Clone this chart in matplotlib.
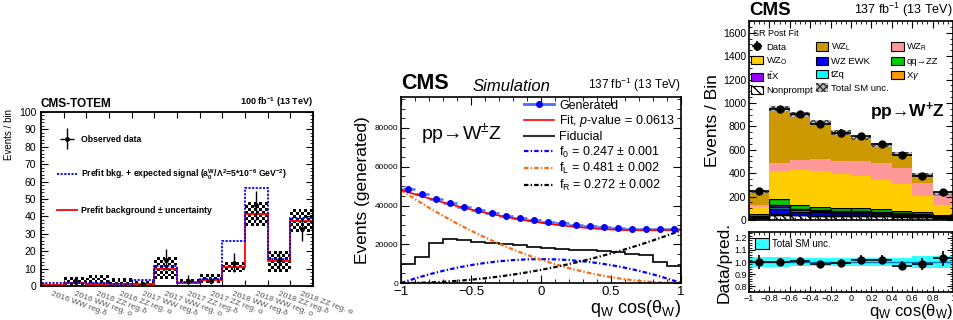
import matplotlib
matplotlib.use('Agg')
import matplotlib.pyplot as plt
import numpy as np
from matplotlib.ticker import MultipleLocator, FormatStrFormatter
from matplotlib.patches import Patch
from matplotlib.lines import Line2D
from matplotlib.legend_handler import HandlerErrorbar

plt.rcParams['font.family'] = ['Liberation Sans', 'DejaVu Sans']
plt.rcParams['mathtext.fontset'] = 'custom'
plt.rcParams['mathtext.rm'] = 'Liberation Sans'
plt.rcParams['mathtext.it'] = 'Liberation Sans:italic'
plt.rcParams['mathtext.bf'] = 'Liberation Sans:bold'
plt.rcParams['hatch.linewidth'] = 1.0

# ---- left panel: CMS-TOTEM counting bins
totem_bins = ['2016 WW reg.δ', '2016 WW reg. o', '2016 ZZ reg.δ', '2016 ZZ reg. o',
              '2017 WW reg.δ', '2017 WW reg. o', '2017 ZZ reg.δ', '2017 ZZ reg. o',
              '2018 WW reg.δ', '2018 WW reg. o', '2018 ZZ reg.δ', '2018 ZZ reg. o']
totem_bkg = [0.6, 1.5, 1.2, 1.0, 1.0, 9.8, 1.9, 3.5, 11.0, 41.3, 14.5, 37.1]
totem_sig = [1.9, 2.0, 1.5, 1.2, 3.5, 11.7, 2.5, 3.8, 26.0, 56.5, 15.4, 39.0]
totem_unc_lo = [0.0, 0.6, 0.6, 0.6, 0.0, 3.8, 1.2, 1.5, 8.3, 34.2, 8.3, 31.0]
totem_unc_hi = [0.8, 5.0, 6.3, 4.4, 2.5, 16.0, 4.0, 6.3, 14.0, 47.7, 19.8, 43.8]
totem_obs = [np.nan, 3, np.nan, np.nan, 1, 15, 3, 3, 13, 46.5, 15, 32.5]
totem_obs_lo = [0, 2.4, 0, 0, 1, 6, 3, 2, 5, 8.5, 5.5, 6.5]
totem_obs_hi = [0, 2.4, 0, 0, 1.5, 6, 3.5, 2, 6, 8, 5, 6]

# ---- middle panel: generated q*cos(theta) distribution
gen_x = [-0.95, -0.85, -0.75, -0.65, -0.55, -0.45, -0.35, -0.25, -0.15, -0.05,
         0.05, 0.15, 0.25, 0.35, 0.45, 0.55, 0.65, 0.75, 0.85, 0.95]
gen_y = [48500, 46100, 43500, 41400, 39200, 37600, 36000, 34800, 33400, 32400,
         31500, 30800, 30000, 29400, 28800, 28200, 27900, 27700, 27700, 27900]
fid_edges = [-1.0, -0.9, -0.8, -0.7, -0.6, -0.5, -0.4, -0.3, -0.2, -0.1, 0.0,
             0.1, 0.2, 0.3, 0.4, 0.5, 0.6, 0.7, 0.8, 0.9, 1.0]
fid_y = [9800, 13300, 20700, 22600, 22100, 21400, 20900, 20200, 19500, 18600,
         17900, 17700, 17200, 16800, 16300, 16000, 15100, 14200, 10700, 8900]
curve_x = fid_edges
fit_y = [48000, 45800, 43700, 41600, 39700, 37900, 36300, 34800, 33400, 32200, 31100,
         30100, 29300, 28600, 28000, 27600, 27300, 27200, 27200, 27300, 27500]
f0_y = [0, 2340, 4430, 6280, 7880, 9240, 10350, 11210, 11830, 12200, 12320,
        12200, 11830, 11210, 10350, 9240, 7880, 6280, 4430, 2340, 0]
fL_y = [47980, 43300, 38860, 34660, 30710, 26990, 23510, 20270, 17270, 14510, 12000,
        9720, 7680, 5880, 4320, 3000, 1920, 1080, 480, 120, 0]
fR_y = [0, 70, 270, 610, 1090, 1700, 2440, 3320, 4340, 5490, 6780,
        8210, 9770, 11460, 13290, 15260, 17360, 19600, 21980, 24480, 27130]

# ---- right panel: post-fit stack
sr_edges = [-1.0, -0.8, -0.6, -0.4, -0.2, 0.0, 0.2, 0.4, 0.6, 0.8, 1.0]
nonprompt = [18, 45, 40, 38, 35, 33, 30, 28, 22, 15]
xgamma = [2, 10, 5, 5, 6, 6, 5, 3, 3, 2]
wz_ewk = [8, 40, 25, 22, 20, 18, 17, 14, 12, 7]
tzq = [5, 20, 15, 12, 10, 10, 9, 8, 6, 4]
ttx = [4, 12, 8, 7, 6, 6, 5, 5, 4, 3]
qqzz = [13, 50, 35, 30, 28, 27, 25, 22, 18, 12]
wz_o = [58, 238, 299, 301, 290, 278, 251, 226, 141, 85]
wz_r = [20, 75, 85, 103, 105, 124, 142, 142, 114, 78]
wz_l = [117, 461, 391, 313, 246, 201, 154, 113, 64, 22]
sr_unc = [12, 22, 22, 20, 20, 18, 18, 17, 15, 12]
sr_data = [248, 945, 905, 817, 746, 720, 649, 555, 376, 236]
ratio = [1.00, 1.00, 1.01, 0.98, 0.995, 1.02, 1.02, 0.97, 0.985, 1.03]
ratio_err = [0.06, 0.03, 0.03, 0.03, 0.03, 0.035, 0.035, 0.04, 0.05, 0.065]
ratio_unc = [0.045, 0.045, 0.035, 0.035, 0.035, 0.035, 0.035, 0.035, 0.05, 0.05]

W, H = 954, 320


def px(l, t, r, b):
    return [l / W, 1 - b / H, (r - l) / W, (b - t) / H]


def minus_fmt(v, p):
    if abs(v) < 1e-9:
        return '0'
    return ('%g' % round(v, 2)).replace('-', '\u2212')


fig = plt.figure(figsize=(W / 100, H / 100), dpi=100)
ax1 = fig.add_axes(px(41, 112, 313, 286))
ax2 = fig.add_axes(px(401, 97, 681, 283))
ax3 = fig.add_axes(px(749, 21, 953, 220))
ax4 = fig.add_axes(px(749, 232, 953, 292))

# ================= left
n = len(totem_bins)
edges1 = np.arange(n + 1)
cent1 = np.arange(n) + 0.5
# checkerboard uncertainty boxes (about 3 px cells)
for i in range(n):
    lo, hi = totem_unc_lo[i], totem_unc_hi[i]
    ny = max(1, int(round((hi - lo) * 1.74 / 2.8)))
    board = np.add.outer(np.arange(ny), np.arange(8)) % 2
    ax1.imshow(board, extent=(i, i + 1, lo, hi), cmap='gray', vmin=0, vmax=1,
               interpolation='nearest', aspect='auto', origin='lower', zorder=1)
ax1.stairs(totem_bkg, edges1, color='red', lw=1.3, zorder=2)
ax1.stairs(totem_sig, edges1, color='blue', lw=1.3, ls=(0, (1.2, 0.8)), zorder=2)
ax1.errorbar(cent1, totem_obs, yerr=[totem_obs_lo, totem_obs_hi],
             fmt='o', ms=2.5, color='black', lw=1, capsize=0, zorder=3)
eb_leg = ax1.errorbar([np.nan], [np.nan], xerr=[1], yerr=[1], fmt='o', ms=2.5,
                      color='black', lw=1, capsize=0)
ax1.set_xlim(0, n)
ax1.set_ylim(0, 100)
ax1.set_xticks(edges1)
ax1.set_xticklabels([])
ax1.set_xticks(cent1, minor=True)
ax1.set_xticklabels(totem_bins, minor=True, rotation=-20, ha='left', va='top',
                    rotation_mode='anchor', fontsize=6, color='#555555')
ax1.tick_params(axis='x', which='minor', length=0, pad=3)
ax1.tick_params(axis='x', which='major', direction='in', top=True, length=4)
ax1.yaxis.set_major_locator(MultipleLocator(10))
ax1.yaxis.set_minor_locator(MultipleLocator(2))
ax1.tick_params(axis='y', which='both', direction='in', right=True, labelsize=7.5)
ax1.tick_params(axis='y', which='major', length=5)
ax1.tick_params(axis='y', which='minor', length=2.5)
ax1.set_ylabel('Events / bin', fontsize=7)
ax1.yaxis.set_label_coords(-0.1, 0.87)
for s in ax1.spines.values():
    s.set_linewidth(1.3)
    s.set_zorder(4)
ax1.text(0.0, 1.01, 'CMS-TOTEM', transform=ax1.transAxes, fontsize=8.5,
         fontweight='bold', va='bottom')
ax1.text(1.0, 1.015, r'100 fb$^{\mathbf{-1}}$ (13 TeV)', transform=ax1.transAxes,
         fontsize=6.5, fontweight='bold', va='bottom', ha='right')
ax1.legend([eb_leg, Line2D([], [], color='blue', lw=1.3, ls=(0, (1.2, 0.8))),
            Line2D([], [], color='red', lw=1.3)],
           ['Observed data',
            r'Prefit bkg. + expected signal (a$_{\mathbf{0}}^{\mathbf{W}}$/Λ$^{\mathbf{2}}$=5*10$^{\mathbf{-6}}$ GeV$^{\mathbf{-2}}$)',
            r'Prefit background ± uncertainty'],
           handler_map={eb_leg: HandlerErrorbar(xerr_size=0.8, yerr_size=1.2)},
           loc='upper left', bbox_to_anchor=(0.06, 0.87), frameon=False,
           prop={'size': 6.2, 'weight': 'bold'}, labelspacing=2.8,
           handlelength=2.3, handletextpad=0.5, borderaxespad=0, borderpad=0)

# ================= middle
dd = (0, (2, 1, 0.6, 1))
ax2.stairs(fid_y, fid_edges, color='black', lw=1.2)
ax2.plot(curve_x, f0_y, color='blue', lw=1.6, ls=dd)
ax2.plot(curve_x, fL_y, color='#ff6a10', lw=1.6, ls=dd)
ax2.plot(curve_x, fR_y, color='black', lw=1.6, ls=dd)
ax2.errorbar(gen_x, gen_y, xerr=0.05, fmt='o', color='#4a6dff', mfc='blue',
             mec='blue', ms=4, lw=1.8, capsize=0)
ax2.plot(curve_x, fit_y, color='red', lw=1.2)
ax2.set_xlim(-1, 1)
ax2.set_ylim(0, 96000)
ax2.xaxis.set_major_locator(MultipleLocator(0.5))
ax2.xaxis.set_minor_locator(MultipleLocator(0.1))
ax2.yaxis.set_major_locator(MultipleLocator(20000))
ax2.yaxis.set_minor_locator(MultipleLocator(5000))
ax2.xaxis.set_major_formatter(minus_fmt)
ax2.tick_params(which='both', direction='in', top=True, right=True)
ax2.tick_params(which='major', length=6)
ax2.tick_params(which='minor', length=3)
ax2.tick_params(axis='x', labelsize=9.5, pad=2.5)
ax2.tick_params(axis='y', labelsize=6, pad=2)
ax2.set_ylabel('Events (generated)', fontsize=12.5, labelpad=3)
ax2.set_xlabel(r'q$_{\mathrm{W}}$ cos(θ$_{\mathrm{W}}$)', fontsize=13, loc='right',
               labelpad=0)
ax2.text(0.0, 1.015, 'CMS', transform=ax2.transAxes, fontsize=15.5,
         fontweight='bold', va='bottom')
ax2.text(0.255, 1.015, 'Simulation', transform=ax2.transAxes, fontsize=12,
         style='italic', va='bottom')
ax2.text(1.0, 1.015, r'137 fb$^{-1}$ (13 TeV)', transform=ax2.transAxes,
         fontsize=8.5, va='bottom', ha='right')
ax2.text(0.07, 0.80, r'pp→W$^{\mathrm{±}}$Z', transform=ax2.transAxes, fontsize=14,
         va='center')
ax2.legend([Line2D([], [], color='#4a6dff', lw=2, marker='o', ms=4, mfc='blue', mec='blue'),
            Line2D([], [], color='red', lw=1.2),
            Line2D([], [], color='#333333', lw=1.5),
            Line2D([], [], color='blue', lw=1.6, ls=dd),
            Line2D([], [], color='#ff6a10', lw=1.6, ls=dd),
            Line2D([], [], color='black', lw=1.6, ls=dd)],
           ['Generated', r'Fit, $p$-value = 0.0613', 'Fiducial',
            r'f$_0$ = 0.247 ± 0.001', r'f$_{\mathrm{L}}$ = 0.481 ± 0.002',
            r'f$_{\mathrm{R}}$ = 0.272 ± 0.002'],
           loc='upper left', bbox_to_anchor=(0.44, 0.985), frameon=False,
           fontsize=9, labelspacing=0.13, handlelength=2.4, handletextpad=0.4,
           borderaxespad=0, borderpad=0)
for s in ax2.spines.values():
    s.set_linewidth(1.2)

# ================= right main
sr_edges = np.array(sr_edges)
left3 = sr_edges[:-1]
wid = np.diff(sr_edges)
cent3 = left3 + wid / 2
comps = [
    (nonprompt, 'Nonprompt', 'white', '\\\\\\\\', 'black'),
    (xgamma, r'X$\gamma$', '#ff9900', None, 'black'),
    (wz_ewk, 'WZ EWK', '#0000ff', None, 'black'),
    (tzq, 'tZq', '#00ffff', None, 'black'),
    (ttx, r't$\mathrm{\bar{t}}$X', '#9900ff', None, 'black'),
    (qqzz, 'qq→ZZ', '#00cc00', None, 'black'),
    (wz_o, r'WZ$_{\mathrm{O}}$', '#ffcc00', None, 'none'),
    (wz_r, r'WZ$_{\mathrm{R}}$', '#ff9999', None, 'none'),
    (wz_l, r'WZ$_{\mathrm{L}}$', '#cc9900', None, 'none'),
]
bottom = np.zeros(len(left3))
handles = {}
for vals, lab, fc, hatch, ec in comps:
    ax3.bar(left3, vals, bottom=bottom, width=wid, align='edge', facecolor=fc,
            edgecolor=ec, hatch=hatch, lw=1.0 if ec != 'none' else 0)
    handles[lab] = Patch(facecolor=fc, edgecolor='black', hatch=hatch, lw=0.8)
    bottom = bottom + np.array(vals)
total = bottom
ax3.bar(left3, 2 * np.array(sr_unc), bottom=total - np.array(sr_unc), width=wid,
        align='edge', facecolor='#bbbbbb', edgecolor='#333333', hatch='xxxxx', lw=0,
        alpha=0.9)
eb3 = ax3.errorbar(cent3, sr_data, xerr=wid / 2, yerr=np.sqrt(sr_data), fmt='o',
                   color='black', ms=5, lw=1.2, capsize=0)
ax3.set_xlim(-1, 1)
ax3.set_ylim(0, 1700)
ax3.xaxis.set_major_locator(MultipleLocator(0.2))
ax3.xaxis.set_minor_locator(MultipleLocator(0.05))
ax3.yaxis.set_major_locator(MultipleLocator(200))
ax3.yaxis.set_minor_locator(MultipleLocator(50))
ax3.tick_params(which='both', direction='in', top=True, right=True, labelbottom=False)
ax3.tick_params(which='major', length=5)
ax3.tick_params(which='minor', length=2.5)
ax3.tick_params(axis='y', labelsize=7.5, pad=2)
ax3.set_ylabel('Events / Bin', fontsize=12.5, labelpad=2)
ax3.text(0.0, 1.01, 'CMS', transform=ax3.transAxes, fontsize=13.5,
         fontweight='bold', va='bottom')
ax3.text(1.0, 1.01, r'137 fb$^{-1}$ (13 TeV)', transform=ax3.transAxes,
         fontsize=9, va='bottom', ha='right')
ax3.text(0.02, 0.935, 'SR Post Fit', transform=ax3.transAxes, fontsize=6.5,
         va='center')
ax3.text(0.96, 0.545, r'pp→W$^{\mathbf{+}}$Z', transform=ax3.transAxes,
         fontsize=12.5, fontweight='bold', ha='right', va='center')
unc_h = Patch(facecolor='#bbbbbb', edgecolor='#333333', hatch='xxxxx', lw=0)
leg_h = [eb3, handles[r'WZ$_{\mathrm{O}}$'], handles[r't$\mathrm{\bar{t}}$X'], handles['Nonprompt'],
         handles[r'WZ$_{\mathrm{L}}$'], handles['WZ EWK'], handles['tZq'], unc_h,
         handles[r'WZ$_{\mathrm{R}}$'], handles['qq→ZZ'], handles[r'X$\gamma$']]
leg_l = ['Data', r'WZ$_{\mathrm{O}}$', r't$\mathrm{\bar{t}}$X', 'Nonprompt',
         r'WZ$_{\mathrm{L}}$', 'WZ EWK', 'tZq', 'Total SM unc.',
         r'WZ$_{\mathrm{R}}$', 'qq→ZZ', r'X$\gamma$']
ax3.legend(leg_h, leg_l, ncol=3, loc='upper left', bbox_to_anchor=(0.01, 0.895),
           frameon=False, fontsize=6.8, handlelength=1.3, handleheight=1.0,
           handletextpad=0.3, columnspacing=0.3, labelspacing=0.38,
           borderaxespad=0, borderpad=0)
for s in ax3.spines.values():
    s.set_linewidth(1.2)

# ================= right ratio
ru = np.array(ratio_unc)
ax4.bar(left3, 2 * ru, bottom=1 - ru, width=wid, align='edge', facecolor='#33ffff',
        lw=0)
ax4.axhline(1.0, color='#0077bb', lw=1.0)
ax4.errorbar(cent3, ratio, xerr=wid / 2, yerr=ratio_err, fmt='o', color='black',
             ms=5, lw=1.2, capsize=0)
ax4.set_xlim(-1, 1)
ax4.set_ylim(0.75, 1.25)
ax4.xaxis.set_major_locator(MultipleLocator(0.2))
ax4.xaxis.set_minor_locator(MultipleLocator(0.05))
ax4.yaxis.set_major_locator(MultipleLocator(0.1))
ax4.yaxis.set_minor_locator(MultipleLocator(0.02))
ax4.yaxis.set_major_formatter(FormatStrFormatter('%.1f'))
ax4.xaxis.set_major_formatter(minus_fmt)
ax4.tick_params(which='both', direction='in', top=True, right=True)
ax4.tick_params(which='major', length=4)
ax4.tick_params(which='minor', length=2)
ax4.tick_params(axis='both', labelsize=6.5, pad=1.5)
ax4.set_ylabel('Data/pred.', fontsize=12.5, labelpad=2)
ax4.set_xlabel(r'q$_{\mathrm{W}}$ cos(θ$_{\mathrm{W}}$)', fontsize=12, loc='right',
               labelpad=-1)
ax4.legend([Patch(facecolor='#33ffff', edgecolor='black', lw=0.8)], ['Total SM unc.'],
           loc='upper left', bbox_to_anchor=(0.03, 0.9), frameon=False, fontsize=7,
           handlelength=1.4, handleheight=1.3, handletextpad=0.3, borderaxespad=0,
           borderpad=0)
for s in ax4.spines.values():
    s.set_linewidth(1.2)

fig.savefig('out.png', dpi=100)
